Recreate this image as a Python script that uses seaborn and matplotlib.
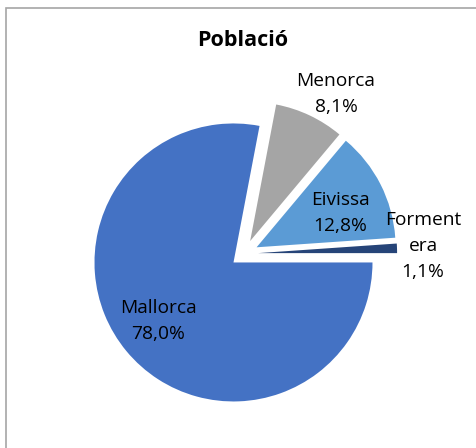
import matplotlib
matplotlib.use("Agg")
import matplotlib.pyplot as plt
from matplotlib.patches import Rectangle
import seaborn as sns

# Data (order = counter-clockwise from 3 o'clock)
islands = ["Formentera", "Eivissa", "Menorca", "Mallorca"]
shares = [1.1, 12.8, 8.1, 78.0]
label_names = ["Forment\nera", "Eivissa", "Menorca", "Mallorca"]
colors = ["#264478", "#5B9BD5", "#A5A5A5", "#4472C4"]
explode = [0.1, 0.1, 0.1, 0.1]

sns.set_theme(style="white")
plt.rcParams["font.family"] = ["Open Sans", "DejaVu Sans"]

W, H = 477, 448
fig = plt.figure(figsize=(W / 100, H / 100), dpi=100)
ax = fig.add_axes([0, 0, 1, 1])

# pie centre and radius in pixels
cx, cy, r = 244.2, 253.6, 139.0

ax.pie(shares, colors=colors, explode=explode, startangle=0,
       counterclock=True, radius=1.0,
       wedgeprops=dict(linewidth=0))

# pie() resets the limits, so set them afterwards
ax.set_xlim(-cx / r, (W - cx) / r)
ax.set_ylim(-(H - cy) / r, cy / r)
ax.set_aspect("equal")
ax.set_axis_off()

# label positions (pixel coords, top-left origin)
label_pos = {
    "Formentera": (423, 246),
    "Eivissa": (340, 213),
    "Menorca": (336, 94),
    "Mallorca": (158, 321),
}
for name, lab, val in zip(islands, label_names, shares):
    px, py = label_pos[name]
    txt = f"{lab}\n{val:.1f}%".replace(".", ",")
    ax.text((px - cx) / r, (cy - py) / r, txt, ha="center", va="center",
            fontsize=13.8, color="#000000", linespacing=1.55)

fig.text(243 / W, 1 - 40 / H, "Població", ha="center", va="center",
         fontsize=15.5, fontweight="bold", color="#000000")

# chart frame
fig.patches.append(Rectangle((6 / W, -0.1), 1.2, 1 - 8 / H + 0.1,
                             transform=fig.transFigure, fill=False,
                             edgecolor="#A6A6A6", linewidth=1.2))

fig.savefig("out.png", dpi=100)
